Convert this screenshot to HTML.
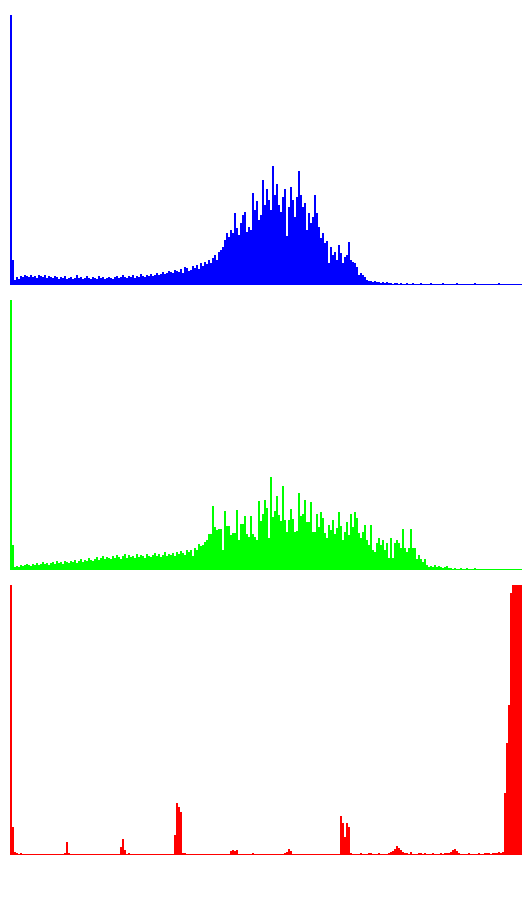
<!DOCTYPE html>
<html><head><meta charset="utf-8"><style>
html,body{margin:0;padding:0;background:#fff;width:532px;height:900px;overflow:hidden;font-family:"Liberation Sans",sans-serif}
svg{display:block}
</style></head><body>
<svg id="chart" width="532" height="900" viewBox="0 0 532 900" shape-rendering="crispEdges">
<g id="blue"></g>
<g id="green"></g>
<g id="red"></g>
</svg>
<script>
const bins = Array.from({length:256},(_, i)=>i);
const blueValues = [
270,25,5,8,6,9,8,10,9,8,10,8,9,7,10,9,8,10,7,9,8,7,9,8,6,8,7,9,6,7,8,6,7,10,7,8,6,7,9,7,
6,8,7,6,9,7,8,6,7,8,7,6,8,9,7,8,10,8,7,9,8,10,7,9,8,11,9,8,10,9,11,9,10,12,10,11,13,11,12,14,
13,12,15,14,13,16,12,18,17,14,15,19,17,20,16,22,19,23,21,25,22,27,30,25,33,35,38,45,52,48,
55,52,72,57,50,62,70,73,53,58,55,92,75,84,65,70,105,80,96,85,75,119,90,101,80,73,88,96,49,78,
98,85,68,88,114,90,78,82,55,72,62,68,90,72,58,47,52,42,44,22,38,30,33,25,40,32,22,28,30,43,
25,23,22,18,10,12,10,8,5,4,4,3,4,3,3,2,3,2,3,2,2,1,2,2,1,2,1,1,2,1,
1,2,1,1,1,2,1,1,1,1,2,1,1,1,1,1,2,1,1,1,1,1,1,2,1,1,1,1,1,1,
1,1,2,1,1,1,1,1,1,1,1,1,1,1,2,1,1,1,1,1,1,1,1,1,1,1];
const greenValues = [
270,25,3,4,3,5,4,5,6,5,4,6,5,7,5,6,8,6,7,5,7,8,6,9,7,8,6,9,8,7,9,8,10,7,9,11,8,10,9,12,
10,9,11,13,10,12,14,11,13,12,11,14,12,15,13,11,14,16,12,15,13,14,12,16,13,15,14,12,16,14,
13,15,17,14,16,13,15,18,14,16,15,17,14,18,16,19,17,15,20,18,20,14,22,20,26,24,25,28,30,36,
36,64,43,40,41,41,20,59,44,44,35,37,37,60,30,46,46,54,36,33,54,36,33,30,69,49,56,70,62,32,
93,53,59,74,55,49,84,50,38,50,61,51,38,39,77,54,56,70,48,48,68,38,38,56,43,58,52,37,32,45,
40,50,36,42,58,44,30,38,48,35,56,43,58,52,37,32,38,45,30,25,45,20,18,27,32,25,30,20,27,12,
32,12,27,30,27,22,41,22,18,22,41,22,22,11,15,11,8,11,5,3,4,3,5,3,4,3,2,3,4,2,
2,1,2,1,1,2,1,1,2,1,1,1,2,1,1,1,1,1,1,1,1,1,1,1,1,1,1,1,1,1,1,1,1,1,1,1];
const redValues = [
270,28,3,2,1,2,1,0,1,0,0,1,0,0,0,0,
1,0,0,0,0,1,0,0,0,0,1,2,13,2,0,0,
0,0,0,1,0,0,0,0,0,1,0,1,0,0,0,0,
0,0,1,0,0,0,0,8,16,5,1,2,1,0,1,0,
0,0,0,0,0,0,0,0,0,0,0,0,0,0,0,0,
0,0,20,52,48,43,2,2,1,0,0,0,0,0,0,1,
0,0,0,0,0,0,0,0,0,0,0,0,1,1,4,5,
4,5,1,0,0,0,1,0,0,2,0,1,0,0,0,0,
0,0,0,0,0,0,0,0,1,2,3,6,4,1,0,0,
1,0,0,0,0,0,0,0,0,0,0,0,0,0,0,1,
0,0,0,0,1,39,32,18,32,28,2,1,0,1,0,2,
1,1,0,2,2,1,0,1,2,1,0,0,1,2,3,4,
6,9,7,5,3,2,2,1,3,1,1,1,2,2,1,2,
1,1,1,2,1,1,1,2,1,2,2,2,3,5,6,4,
2,1,1,1,1,2,1,1,0,1,2,1,1,2,2,2,
1,2,2,2,3,2,3,62,112,150,262,270,270,270,270,270];
const maxValue = 270;

const NS = "http://www.w3.org/2000/svg";
const X0 = 10, PLOT_W = 512, PLOT_H = 270;
const xScale = i => X0 + i * (PLOT_W / 256);
const barW = PLOT_W / 256;

function drawPanel(gid, values, baseline, color, name){
  const g = document.getElementById(gid);
  const yScale = v => baseline - (v / maxValue) * PLOT_H;
  const base = document.createElementNS(NS, "rect");
  base.setAttribute("x", X0); base.setAttribute("y", baseline - 1);
  base.setAttribute("width", PLOT_W); base.setAttribute("height", 1);
  base.setAttribute("fill", color);
  
  
  g.appendChild(base);
  bins.forEach(i => {
    const v = values[i] || 0;
    if (v <= 0) return;
    const r = document.createElementNS(NS, "rect");
    const y = yScale(v);
    r.setAttribute("x", xScale(i));
    r.setAttribute("y", y);
    r.setAttribute("width", barW);
    r.setAttribute("height", baseline - y);
    r.setAttribute("fill", color);
    
    
    g.appendChild(r);
  });
}
drawPanel("blue", blueValues, 285, "#0000ff", "blue");
drawPanel("green", greenValues, 570, "#00ff00", "green");
drawPanel("red", redValues, 855, "#ff0000", "red");
</script>
</body></html>
